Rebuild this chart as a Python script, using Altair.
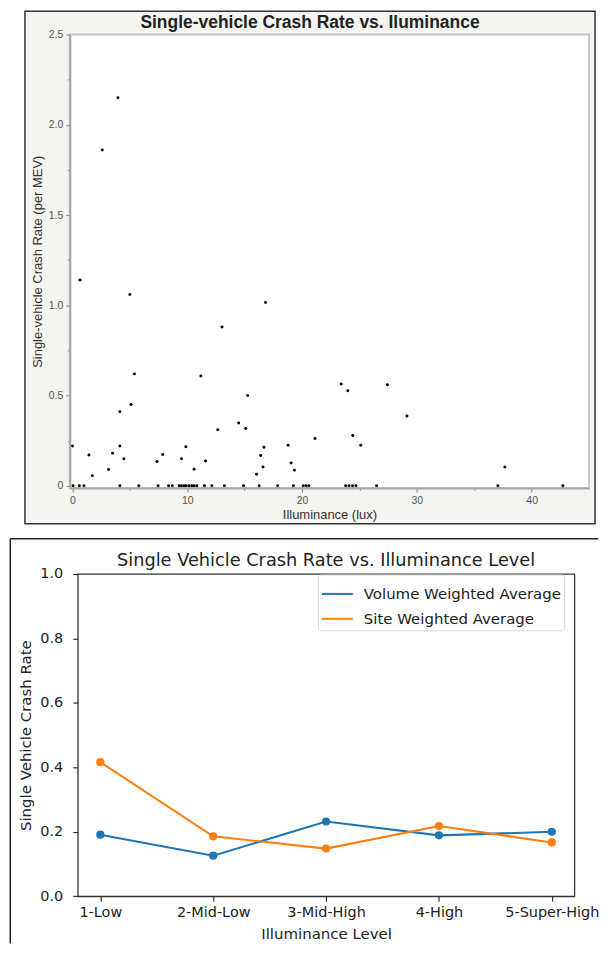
import altair as alt
import pandas as pd

# ---------------- Top panel: single-vehicle crash rate vs. illuminance ----------------
illum_nonzero = [0.0, 0.66, 1.44, 1.73, 2.6, 3.15, 3.5, 3.96, 4.13, 4.13, 4.48, 5.0, 5.1, 5.4,
                 7.37, 7.86, 9.5, 9.88, 10.6, 11.19, 11.6, 12.66, 13.03, 14.48, 15.1, 15.26,
                 16.04, 16.4, 16.6, 16.68, 16.82, 18.79, 19.05, 19.34, 21.13, 23.41, 23.99,
                 24.42, 25.12, 27.43, 29.14, 37.67]
rate_nonzero = [0.22, 1.14, 0.17, 0.055, 1.86, 0.09, 0.18, 2.15, 0.41, 0.22, 0.15, 1.06, 0.45, 0.62,
                0.135, 0.174, 0.15, 0.216, 0.092, 0.608, 0.137, 0.31, 0.88, 0.348, 0.318, 0.50,
                0.064, 0.168, 0.104, 0.214, 1.016, 0.225, 0.126, 0.086, 0.262, 0.564, 0.526,
                0.278, 0.224, 0.56, 0.386, 0.104]
illum_zero = [0.05, 0.6, 1.0, 4.13, 5.78, 7.46, 8.38, 8.7, 9.3, 9.5, 9.7, 9.9, 10.15, 10.4, 10.6,
              10.84, 11.5, 12.14, 13.24, 14.9, 16.27, 17.87, 19.25, 20.1, 20.35, 20.6, 23.8, 24.1,
              24.4, 24.7, 26.5, 37.06, 42.72]
rate_zero = [0.0] * len(illum_zero)

x_ticks_top = [0, 5, 10, 15, 20, 25, 30, 35, 40]
y_ticks_top = [0, 0.25, 0.5, 0.75, 1.0, 1.25, 1.5, 1.75, 2.0, 2.25, 2.5]
top_title = "Single-vehicle Crash Rate vs. Iluminance"

# ---------------- Bottom panel: crash rate by illuminance level ----------------
levels = ["1-Low", "2-Mid-Low", "3-Mid-High", "4-High", "5-Super-High"]
volume_weighted = [0.191, 0.126, 0.232, 0.189, 0.200]
site_weighted = [0.416, 0.186, 0.148, 0.218, 0.167]
series_names = ["Volume Weighted Average", "Site Weighted Average"]
series_colors = ["#1f77b4", "#ff7f0e"]
y_ticks_bottom = [0.0, 0.2, 0.4, 0.6, 0.8, 1.0]
bottom_title = "Single Vehicle Crash Rate vs. Illuminance Level"

top_df = pd.DataFrame({"illum": illum_nonzero + illum_zero,
                       "rate": rate_nonzero + rate_zero})
bottom_df = pd.DataFrame({
    "level": levels + levels,
    "rate": volume_weighted + site_weighted,
    "series": [series_names[0]] * len(levels) + [series_names[1]] * len(levels),
})
dummy = pd.DataFrame({"k": [0]})

W1, H1 = 521, 455
W2, H2 = 498.3, 323.4

SANS = "Liberation Sans"
DJ = "DejaVu Sans"

x_axis_top = alt.Axis(
    values=x_ticks_top, title="Illuminance (lux)",
    labelExpr="datum.value % 10 !== 0 ? '' : datum.label",
    tickSize={"condition": {"test": "datum.value % 10 !== 0", "value": 2.5}, "value": 4},
    tickColor="#8a8a8a", domainColor="#a6a6a6", domainWidth=2,
    labelFont=SANS, labelFontSize=10.5, labelColor="#555555", labelPadding=4,
    labelFlush=False, labelOverlap=False,
    titleFont=SANS, titleFontSize=13, titleFontWeight="normal", titleColor="#333333",
    titlePadding=2, grid=False, zindex=1)
y_axis_top = alt.Axis(
    values=y_ticks_top, title="Single-vehicle Crash Rate (per MEV)",
    labelExpr="datum.value % 0.5 !== 0 ? '' : (datum.value === 0 ? '0' : format(datum.value, '.1f'))",
    tickSize={"condition": {"test": "datum.value % 0.5 !== 0", "value": 2.5}, "value": 4},
    tickColor="#8a8a8a", domainColor="#a6a6a6", domainWidth=2,
    labelFont=SANS, labelFontSize=10.5, labelColor="#555555", labelPadding=3,
    labelFlush=False, labelOverlap=False,
    titleFont=SANS, titleFontSize=13, titleFontWeight="normal", titleColor="#333333",
    titlePadding=4, grid=False, zindex=1)

box_top = alt.Chart(dummy).mark_rect(fill="#f4f4f0", stroke="#333333", strokeWidth=1.5).encode(
    x=alt.value(-45), x2=alt.value(527), y=alt.value(-23.25), y2=alt.value(491))
panel_top = alt.Chart(dummy).mark_rect(fill="white", stroke="#c6c6c6", strokeWidth=2).encode(
    x=alt.value(0), x2=alt.value(W1), y=alt.value(0), y2=alt.value(H1))
title_top = alt.Chart(dummy).mark_text(
    text=top_title, font=SANS, fontSize=17.5, fontWeight="bold", color="#222222",
    align="center", baseline="alphabetic").encode(x=alt.value(241), y=alt.value(-7))
points_top = alt.Chart(top_df).mark_circle(color="black", size=9, opacity=1).encode(
    x=alt.X("illum:Q", scale=alt.Scale(domain=[-0.23, 45], nice=False, zero=False), axis=x_axis_top),
    y=alt.Y("rate:Q", scale=alt.Scale(domain=[-0.012, 2.5], nice=False, zero=False), axis=y_axis_top))

top = alt.layer(box_top, panel_top, title_top, points_top).properties(
    width=W1, height=H1, view=alt.ViewBackground(stroke="transparent"))

# ---------------- bottom chart ----------------
color = alt.Color("series:N", sort=series_names,
                  scale=alt.Scale(domain=series_names, range=series_colors),
                  legend=alt.Legend(orient="none", legendX=241, legendY=0.5, title=None,
                                    symbolType="stroke", symbolSize=961, symbolStrokeWidth=2,
                                    labelFont=DJ, labelFontSize=15, labelColor="#222222",
                                    labelOffset=10, padding=3, rowPadding=0, labelLimit=400,
                                    strokeColor="#d6d6d6", cornerRadius=3, fillColor="white"))
x_axis_bottom = alt.Axis(title="Illuminance Level", labelAngle=0, domain=False,
                         tickColor="#222222", tickSize=5, tickWidth=1.1,
                         labelFont=DJ, labelFontSize=14.5, labelColor="#222222", labelPadding=4,
                         titleFont=DJ, titleFontSize=15, titleFontWeight="normal",
                         titleColor="#222222", titlePadding=8, grid=False)
y_axis_bottom = alt.Axis(title="Single Vehicle Crash Rate", values=y_ticks_bottom, format=".1f",
                         domain=False, tickColor="#222222", tickSize=5, tickWidth=1.1,
                         labelFont=DJ, labelFontSize=14.5, labelColor="#222222", labelPadding=10,
                         labelFlush=False,
                         titleFont=DJ, titleFontSize=15, titleFontWeight="normal",
                         titleColor="#222222", titlePadding=6, grid=False)

base = alt.Chart(bottom_df).encode(
    x=alt.X("level:N", sort=levels, scale=alt.Scale(type="point", padding=0.2), axis=x_axis_bottom),
    y=alt.Y("rate:Q", scale=alt.Scale(domain=[0, 1], nice=False), axis=y_axis_bottom),
    color=color)
lines = base.mark_line(strokeWidth=2.1)
dots = base.mark_point(filled=True, size=68, opacity=1)

frame_left = alt.Chart(dummy).mark_rule(color="#222222", strokeWidth=1.5).encode(
    x=alt.value(-67.7), y=alt.value(-35.3), y2=alt.value(370.7))
frame_top = alt.Chart(dummy).mark_rule(color="#222222", strokeWidth=1.5).encode(
    x=alt.value(-67.7), x2=alt.value(522.3), y=alt.value(-35.3))
title_bottom = alt.Chart(dummy).mark_text(
    text=bottom_title, font=DJ, fontSize=17.8, fontWeight="normal", color="#222222",
    align="center", baseline="alphabetic").encode(x=alt.value(W2 / 2), y=alt.value(-8.3))

bottom = alt.layer(lines, dots, frame_left, frame_top, title_bottom).properties(
    width=W2, height=H2,
    view=alt.ViewBackground(stroke="#333333", strokeWidth=1.3))

spacer = alt.Chart(dummy).mark_point(opacity=0).encode(x=alt.value(0), y=alt.value(0)).properties(
    width=7.7, height=10, view=alt.ViewBackground(stroke="transparent"))

chart = alt.vconcat(
    top,
    alt.hconcat(spacer, bottom, spacing=0, bounds="flush").resolve_legend(color="independent"),
    spacing=86.3, bounds="flush",
).resolve_legend(color="independent").properties(padding=0)

chart.save("out.html", embed_options={"renderer": "svg", "actions": False})
